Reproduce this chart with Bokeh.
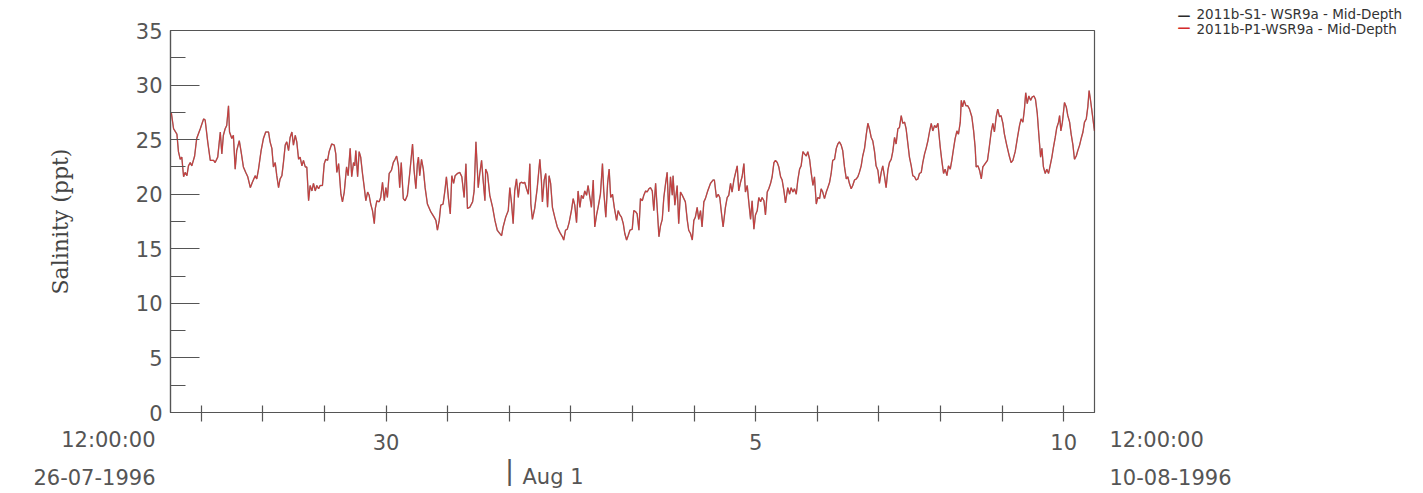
import pandas as pd
from bokeh.plotting import figure
from bokeh.models import Range1d, FixedTicker, Label, ColumnDataSource
from bokeh.embed import file_html
from bokeh.resources import INLINE

# ---------------- data ----------------
start = pd.Timestamp("1996-07-26 12:00")
end = pd.Timestamp("1996-08-10 12:00")

# hours since 1996-07-26 12:00
hours = [
    0.3, 1.2, 2.5, 3.1, 3.8, 4.4, 5.1, 5.7, 6.4, 7.0, 7.7, 8.3, 9.4, 10.2, 11.6, 12.9, 13.5, 14.5, 15.5, 16.8,
    17.4, 18.4, 19.4, 20.0, 20.6, 21.3, 21.9, 22.6, 23.0, 23.9, 24.5, 25.2, 25.8, 26.8, 27.5, 28.4, 29.3, 30.1, 31.1, 31.9,
    33.0, 33.6, 34.3, 35.3, 36.2, 37.1, 38.2, 38.8, 39.5, 40.1, 40.8, 41.4, 42.1, 42.7, 43.4, 44.0, 44.7, 45.3, 46.0, 46.6,
    47.3, 47.9, 48.6, 49.2, 49.9, 50.5, 51.2, 51.8, 52.5, 53.1, 53.8, 54.4, 55.1, 55.7, 56.4, 57.0, 57.7, 58.3, 59.2, 59.9,
    60.5, 61.2, 61.8, 62.8, 63.8, 64.4, 64.8, 65.5, 66.4, 67.0, 67.7, 68.6, 69.2, 70.0, 70.6, 71.3, 71.8, 72.2, 72.9, 73.5,
    74.1, 74.8, 75.5, 76.1, 76.8, 77.4, 78.0, 78.7, 79.4, 79.8, 80.4, 81.3, 81.9, 82.6, 83.3, 83.9, 84.5, 85.2, 86.1, 86.8,
    87.5, 88.1, 88.8, 89.3, 89.9, 90.7, 91.4, 92.3, 93.2, 94.3, 94.9, 95.6, 96.2, 96.6, 97.1, 97.8, 98.5, 99.2, 100.1, 101.4,
    102.7, 103.4, 104.0, 104.7, 105.3, 106.2, 106.9, 107.5, 108.3, 109.0, 109.6, 110.3, 110.9, 111.8, 112.7, 113.5, 114.4, 115.1, 115.7, 116.6,
    117.7, 118.3, 119.0, 119.9, 120.5, 121.2, 121.8, 122.5, 122.8, 123.5, 124.4, 125.5, 126.4, 127.3, 128.3, 129.0, 129.6, 130.6, 131.6, 132.2,
    132.9, 133.5, 134.1, 134.8, 135.5, 136.1, 136.8, 137.4, 138.0, 138.7, 139.4, 140.0, 140.4, 141.0, 141.9, 142.9, 143.9, 144.5, 144.9, 145.6,
    146.2, 146.9, 147.5, 148.1, 148.8, 149.7, 150.7, 151.7, 152.7, 153.2, 153.9, 154.6, 155.3, 156.2, 156.9, 157.5, 158.2, 158.8, 159.5, 160.1,
    160.8, 161.4, 162.1, 162.7, 163.4, 164.0, 164.7, 165.3, 166.0, 166.6, 167.5, 168.3, 168.8, 169.6, 170.3, 170.9, 171.5, 172.2, 172.9, 173.8,
    174.4, 175.1, 175.7, 176.4, 177.0, 177.7, 178.3, 179.0, 179.9, 180.5, 181.2, 181.8, 182.5, 183.1, 183.8, 184.4, 185.1, 185.7, 186.4, 187.0,
    187.7, 188.3, 189.0, 189.6, 190.3, 190.9, 191.6, 192.2, 192.9, 193.5, 194.1, 194.8, 195.5, 195.8, 196.5, 197.4, 198.0, 198.7, 199.4, 200.0,
    200.6, 201.3, 201.9, 202.6, 203.3, 203.9, 204.5, 205.2, 205.8, 206.5, 207.1, 207.8, 208.4, 209.3, 210.4, 211.4, 211.9, 212.7, 213.4, 214.0,
    214.7, 215.3, 216.2, 216.9, 217.5, 218.2, 218.8, 219.5, 220.1, 220.8, 221.4, 222.1, 222.7, 223.4, 224.0, 224.7, 225.3, 226.0, 226.6, 227.3,
    227.9, 228.6, 229.2, 229.9, 230.5, 231.2, 231.8, 232.5, 233.1, 233.8, 234.4, 235.1, 235.7, 236.4, 237.0, 237.7, 238.3, 239.0, 239.6, 240.5,
    241.2, 241.8, 242.5, 243.1, 243.8, 244.4, 245.1, 245.7, 246.4, 247.0, 247.7, 248.3, 249.0, 249.6, 250.3, 250.9, 251.6, 252.2, 252.9, 253.5,
    254.1, 254.8, 255.5, 256.1, 256.8, 257.4, 258.0, 258.7, 259.4, 260.0, 260.6, 261.3, 261.9, 262.6, 263.3, 263.9, 264.5, 265.2, 265.8, 266.5,
    267.2, 267.8, 268.4, 269.1, 269.7, 270.4, 271.1, 271.7, 272.3, 273.0, 273.6, 274.3, 274.9, 275.6, 276.2, 276.9, 277.5, 278.2, 278.8, 279.5,
    280.1, 280.8, 281.4, 282.1, 282.7, 283.4, 284.0, 284.7, 285.3, 286.0, 286.6, 287.3, 287.9, 288.6, 289.2, 289.9, 290.5, 291.2, 291.8, 292.5,
    293.1, 293.8, 294.4, 295.1, 295.7, 296.4, 297.0, 297.7, 298.3, 299.0, 299.9, 300.5, 301.2, 301.8, 302.5, 303.1, 303.8, 304.4, 305.1, 305.7,
    306.4, 307.0, 307.7, 308.1, 308.6, 309.2, 309.9, 310.6, 311.3, 312.2, 312.9, 313.5, 313.9, 314.6, 315.2, 315.9, 316.5, 317.4, 318.3, 319.0,
    319.8, 320.4, 321.0, 321.7, 322.3, 323.0, 323.6, 324.3, 324.9, 325.8, 326.8, 327.5, 328.2, 329.1, 330.0, 330.8, 331.4, 332.1, 332.7, 333.2,
    333.8, 334.4, 335.1, 335.7, 336.4, 337.0, 337.7, 338.3, 339.0, 339.5, 340.1, 340.8, 341.4, 342.1, 342.7, 343.4, 344.0, 344.7, 345.3, 346.0,
    346.4, 346.9, 347.5, 348.3, 349.0, 349.6, 350.3, 350.9, 351.6, 352.2, 352.9, 353.5, 354.2, 354.8, 355.5, 356.1, 356.8, 357.4, 357.9, 358.4,
    358.9, 359.6, 360.0,
]

# salinity (ppt), mid-depth
salinity = [
    27.5, 26.0, 25.5, 23.9, 23.2, 23.4, 21.6, 22.0, 21.7, 22.6, 22.9, 22.6, 23.5, 25.1, 26.0, 26.9, 26.8, 24.8, 23.1, 23.1,
    22.9, 23.4, 25.7, 23.7, 25.4, 26.0, 26.3, 28.1, 25.7, 25.1, 25.4, 22.3, 24.0, 24.9, 23.9, 22.5, 22.0, 21.6, 20.6, 21.1,
    21.7, 21.4, 22.3, 24.0, 25.1, 25.7, 25.7, 24.8, 24.2, 22.5, 22.9, 21.7, 20.6, 21.4, 21.7, 22.9, 24.5, 24.8, 24.0, 25.2,
    25.7, 24.5, 25.4, 24.8, 23.2, 23.4, 22.6, 23.1, 22.5, 22.5, 19.4, 20.8, 20.3, 21.0, 20.3, 20.8, 20.5, 20.8, 20.8, 22.8,
    23.2, 23.1, 23.9, 24.6, 24.5, 23.7, 22.0, 22.8, 20.0, 19.3, 20.2, 22.5, 21.7, 24.2, 21.6, 22.9, 22.6, 24.0, 21.6, 23.9,
    23.4, 21.9, 20.6, 19.4, 20.2, 19.9, 19.1, 18.5, 17.3, 18.7, 19.4, 19.3, 19.7, 21.1, 19.4, 20.6, 19.7, 21.9, 22.2, 22.9,
    23.2, 23.5, 22.6, 20.6, 22.9, 19.6, 19.4, 19.9, 21.9, 24.6, 22.2, 20.5, 22.8, 23.4, 21.7, 23.2, 22.3, 20.6, 19.1, 18.4,
    17.9, 17.6, 16.7, 17.6, 19.0, 19.1, 20.3, 21.6, 19.6, 18.2, 21.7, 21.0, 21.7, 21.9, 22.0, 21.6, 19.7, 22.8, 18.7, 18.8,
    19.3, 20.3, 24.8, 20.6, 21.9, 23.1, 21.3, 19.4, 22.3, 21.9, 19.9, 18.8, 17.6, 16.7, 16.4, 16.2, 17.0, 17.9, 18.5, 20.6,
    19.1, 17.3, 20.3, 21.4, 19.7, 21.0, 21.1, 21.0, 21.1, 20.5, 20.0, 22.8, 19.1, 17.7, 18.7, 20.6, 23.2, 21.3, 19.3, 21.3,
    21.9, 18.8, 21.7, 21.0, 18.8, 17.9, 17.0, 16.5, 16.1, 15.8, 16.7, 16.8, 17.4, 18.5, 19.6, 19.0, 17.4, 20.3, 18.8, 19.9,
    19.6, 20.3, 19.9, 20.8, 19.7, 18.8, 21.3, 17.0, 18.1, 18.8, 20.0, 22.8, 20.3, 17.9, 21.0, 22.3, 19.7, 20.0, 18.8, 17.6,
    18.5, 18.1, 17.9, 17.3, 16.4, 15.8, 16.2, 16.7, 16.8, 18.5, 18.4, 18.2, 16.7, 19.6, 19.4, 19.9, 20.3, 20.2, 20.5, 20.6,
    20.3, 18.5, 21.0, 18.8, 16.1, 17.1, 17.7, 19.7, 21.0, 22.0, 18.4, 21.6, 19.9, 21.7, 19.0, 20.8, 17.3, 20.2, 19.9, 19.6,
    19.3, 17.7, 16.7, 16.4, 15.8, 17.6, 17.9, 18.8, 17.7, 18.5, 17.0, 19.3, 19.6, 20.3, 21.0, 21.3, 21.3, 19.7, 20.0, 19.7,
    18.2, 17.0, 18.8, 19.7, 19.9, 21.0, 20.2, 21.3, 21.9, 22.6, 20.3, 21.1, 21.6, 22.8, 20.2, 20.8, 19.3, 17.7, 19.4, 16.8,
    18.1, 18.5, 19.7, 19.3, 19.7, 19.4, 18.1, 20.2, 20.5, 21.0, 21.6, 22.9, 23.1, 22.9, 22.5, 21.6, 21.3, 20.3, 19.2, 20.6,
    20.0, 20.6, 20.2, 20.5, 20.0, 21.3, 22.3, 22.6, 23.9, 23.7, 23.5, 23.9, 23.2, 22.0, 20.8, 21.6, 19.1, 19.7, 19.6, 20.5,
    20.2, 19.6, 20.2, 20.6, 21.1, 21.9, 23.1, 23.2, 24.2, 24.6, 24.8, 24.5, 24.0, 22.5, 21.4, 21.6, 21.0, 20.5, 20.8, 21.3,
    21.4, 21.6, 22.0, 22.6, 23.5, 24.2, 25.5, 26.5, 26.0, 25.2, 24.9, 23.9, 22.6, 22.2, 21.0, 22.0, 22.6, 21.6, 20.6, 22.2,
    22.9, 23.2, 23.9, 25.2, 24.6, 26.0, 26.1, 27.2, 26.5, 26.6, 26.0, 24.6, 23.4, 22.6, 21.7, 21.6, 21.3, 21.4, 21.9, 22.0,
    22.9, 23.7, 24.2, 24.9, 25.7, 26.5, 25.8, 26.3, 26.1, 26.5, 24.3, 23.1, 21.9, 22.3, 21.7, 22.6, 22.3, 23.1, 24.2, 25.1,
    25.8, 25.5, 26.6, 28.6, 28.0, 28.6, 28.1, 28.1, 27.8, 27.1, 25.8, 24.3, 22.5, 22.6, 22.2, 21.4, 22.5, 22.8, 23.1, 24.3,
    25.8, 26.5, 25.7, 27.1, 27.8, 27.1, 27.2, 26.5, 25.5, 24.5, 23.5, 22.9, 23.1, 23.9, 25.2, 26.3, 26.9, 26.6, 27.8, 29.3,
    28.3, 29.0, 28.6, 28.9, 29.0, 28.7, 27.4, 25.5, 23.4, 24.2, 22.5, 21.9, 22.3, 21.9, 22.6, 23.4, 24.3, 25.2, 26.1, 26.6,
    27.2, 25.8, 26.6, 28.4, 28.0, 27.2, 26.6, 25.5, 24.5, 23.2, 23.5, 24.0, 24.5, 25.1, 25.7, 26.6, 26.9, 28.0, 29.5, 28.7,
    27.8, 26.5, 25.8,
]

series_names = ["2011b-S1- WSR9a - Mid-Depth", "2011b-P1-WSR9a - Mid-Depth"]
series_colors = ["#2a2a2a", "#d42a2a"]

y_ticks = [0, 5, 10, 15, 20, 25, 30, 35]
y_minor = [2.5, 7.5, 12.5, 17.5, 22.5, 27.5, 32.5]

day_ticks = pd.date_range("1996-07-27", "1996-08-10", freq="D")
day_labels = {pd.Timestamp("1996-07-30"): "30",
              pd.Timestamp("1996-08-05"): "5",
              pd.Timestamp("1996-08-10"): "10"}

# ---------------- figure ----------------
times = start + pd.to_timedelta(hours, unit="h")
src = ColumnDataSource(dict(t=times, s1=salinity, p1=salinity))

GRAY = "#555555"
FONT = "DejaVu Sans"

p = figure(frame_width=924, frame_height=382, x_axis_type="datetime",
           x_range=Range1d(start, end), y_range=Range1d(0, 35),
           output_backend="svg", toolbar_location=None,
           min_border_left=170, min_border_right=329,
           min_border_top=30, min_border_bottom=10)
p.grid.visible = False
p.outline_line_color = GRAY
p.outline_line_width = 1.2
p.background_fill_color = "white"
p.border_fill_color = "white"

r1 = p.line("t", "s1", source=src, line_color=series_colors[0], line_width=1.4, line_alpha=0.55)
r2 = p.line("t", "p1", source=src, line_color=series_colors[1], line_width=1.1, line_alpha=0.8)

# y axis
ya = p.yaxis[0]
ya.ticker = FixedTicker(ticks=y_ticks, minor_ticks=y_minor)
ya.major_tick_in = 29
ya.major_tick_out = 0
ya.minor_tick_in = 15
ya.minor_tick_out = 0
ya.axis_line_color = GRAY
ya.major_tick_line_color = GRAY
ya.minor_tick_line_color = GRAY
ya.axis_line_width = 1.2
ya.major_tick_line_width = 1.2
ya.minor_tick_line_width = 1.2
ya.major_label_text_font = FONT
ya.major_label_text_font_size = "21px"
ya.major_label_text_color = GRAY
ya.major_label_standoff = 8
ya.axis_label = "Salinity (ppt)"
ya.axis_label_text_font = "DejaVu Serif"
ya.axis_label_text_font_style = "normal"
ya.axis_label_text_font_size = "22px"
ya.axis_label_text_color = "#444444"
ya.axis_label_standoff = 60

# x axis
xa = p.xaxis[0]
tick_ms = [t.value / 1e6 for t in day_ticks]
xa.ticker = FixedTicker(ticks=tick_ms, minor_ticks=[])
xa.major_label_overrides = {t.value / 1e6: day_labels.get(t, "") for t in day_ticks}
xa.major_tick_in = 7
xa.major_tick_out = 9
xa.minor_tick_line_color = None
xa.axis_line_color = GRAY
xa.major_tick_line_color = GRAY
xa.axis_line_width = 1.2
xa.major_tick_line_width = 1.2
xa.major_label_text_font = FONT
xa.major_label_text_font_size = "21px"
xa.major_label_text_color = GRAY
xa.major_label_standoff = 12

# ---------------- texts outside the frame ----------------
# (added to the "below" side panel: centre annotations are clipped to the frame)
def hx(px):
    """page x pixel -> data time (ms)"""
    return (start + pd.Timedelta(hours=(px - 170) / 2.5667)).value / 1e6

def vy(py):
    """page y pixel -> data value"""
    return (412 - py) / 10.914

def label(text, px, py, align, size="21px", color=GRAY, lh=1.2, style="normal"):
    p.add_layout(Label(x=hx(px), y=vy(py), text=text, text_font=FONT,
                       text_font_size=size, text_color=color,
                       text_align=align, text_baseline="middle",
                       text_font_style=style, text_line_height=lh), "below")

label("12:00:00\n26-07-1996", 155, 458.5, "right", lh=1.57)
label("12:00:00\n10-08-1996", 1109, 458.5, "left", lh=1.57)
label("Aug 1", 522, 476, "left")
label("|", 509, 469, "center", size="27px")

# legend (line samples + series names)
label("\u2014", 1177, 15, "left", size="13px", color=series_colors[0], lh=1.0, style="bold")
label("\u2014", 1177, 27, "left", size="13px", color=series_colors[1], lh=1.0, style="bold")
label(series_names[0] + "\n" + series_names[1], 1196, 21, "left", size="13.5px",
      color="#333333", lh=0.89)

open("out.html", "w").write(file_html(p, INLINE))
